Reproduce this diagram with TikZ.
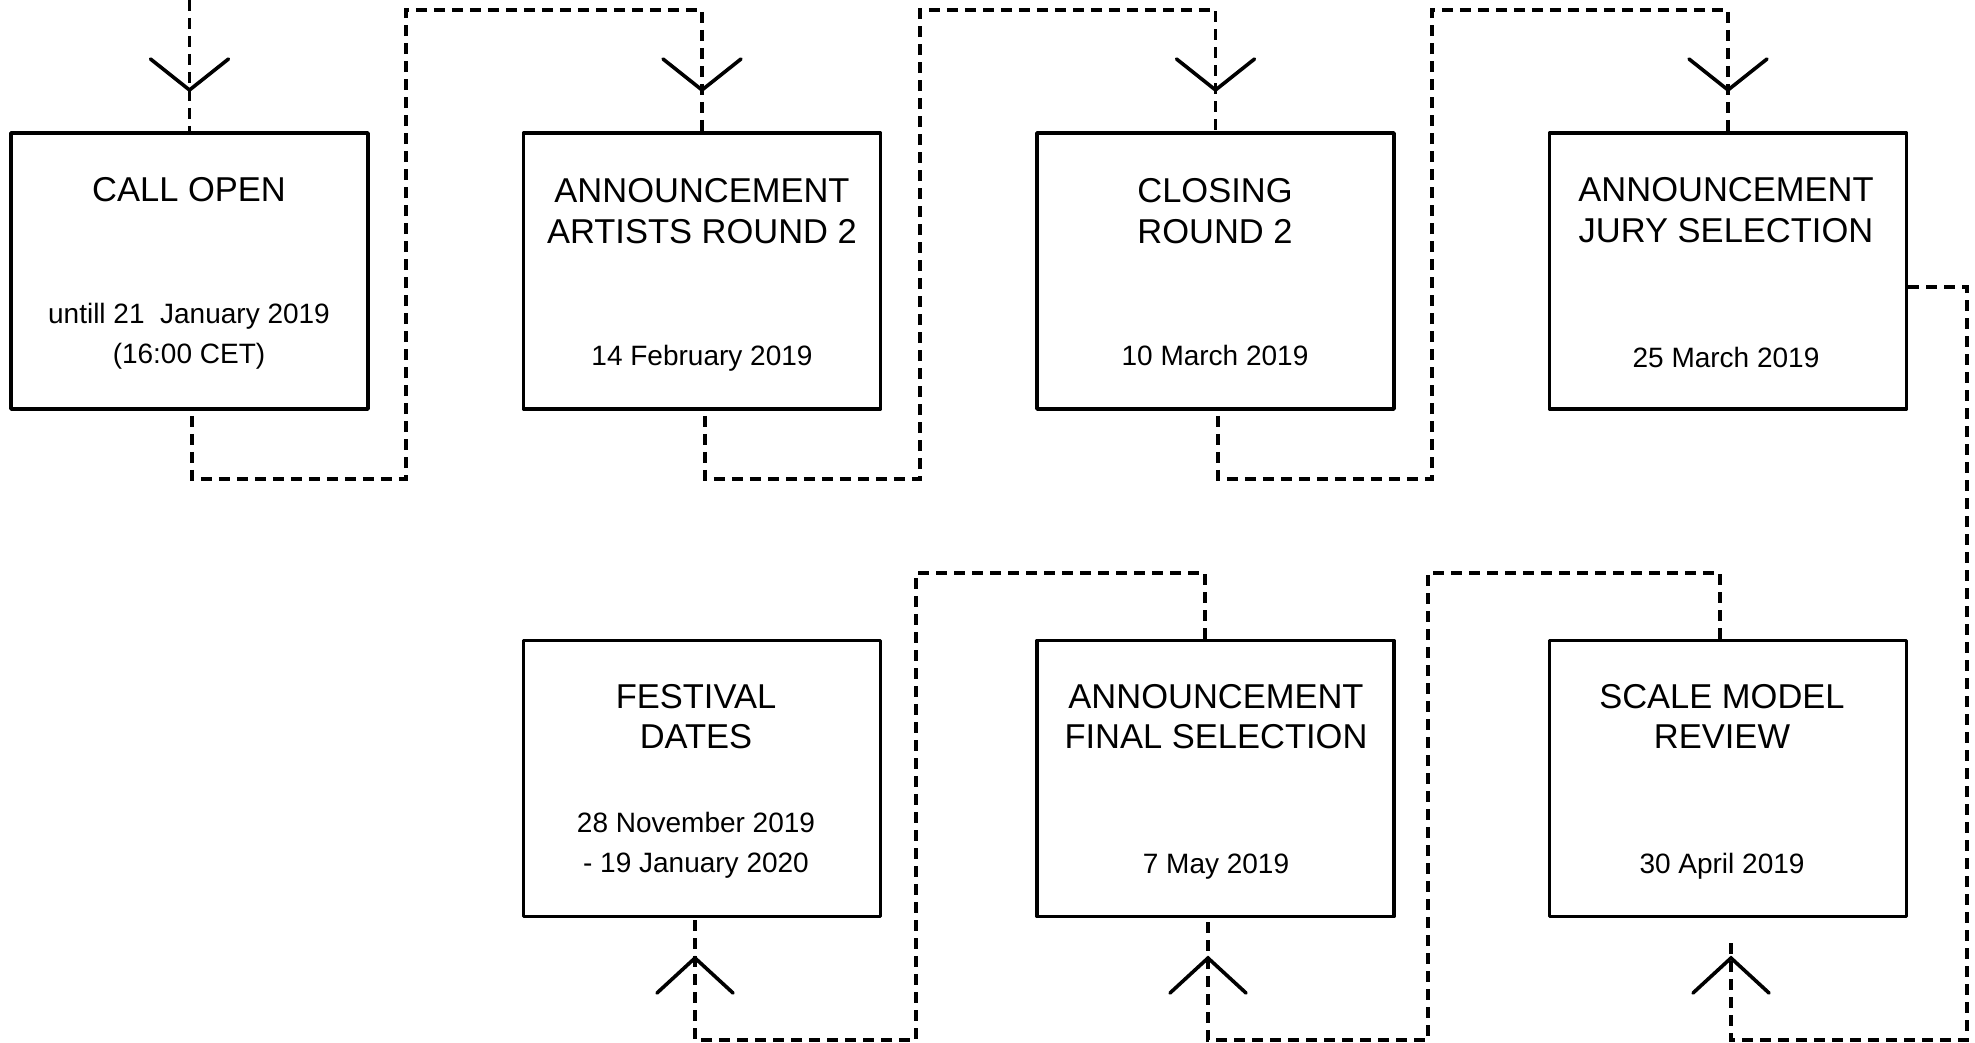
\documentclass[tikz,border=0pt]{standalone}
\usepackage{fontspec}
\setmainfont{Liberation Sans}
\begin{document}
\begin{tikzpicture}[x=1pt,y=-1pt,
  box/.style={draw, line width=3.6pt, line join=round, minimum width=357pt, minimum height=276pt, inner sep=0pt},
  ttl/.style={font=\fontsize{34.5}{40}\selectfont, anchor=base, inner sep=0pt},
  dte/.style={font=\fontsize{28}{40}\selectfont, anchor=base, inner sep=0pt},
  conn/.style={line width=3.6pt, dash pattern=on 11pt off 7pt},
  tipv/.style={line width=3.6pt, line cap=round, line join=miter}]
\useasboundingbox (0,0) rectangle (1975,1043);

% boxes
\node[box] (b1) at (189.5,271) {};
\node[box] (b2) at (702,271) {};
\node[box] (b3) at (1215.5,271) {};
\node[box] (b4) at (1728,271) {};
\node[box] (b5) at (702,778.5) {};
\node[box] (b6) at (1215.5,778.5) {};
\node[box] (b7) at (1728,778.5) {};

% texts top row
\node[ttl] (t1a) at (189,201) {CALL OPEN};
\node[dte] (t1b) at (189,323) {untill 21\ \ January 2019};
\node[dte] (t1c) at (189,363) {(16:00 CET)};

\node[ttl] (t2a) at (702,203) {ANNOUNCEMENT};
\node[ttl] (t2b) at (702,243) {ARTISTS ROUND 2};
\node[dte] (t2c) at (702,365) {14 February 2019};

\node[ttl] (t3a) at (1215,203) {CLOSING};
\node[ttl] (t3b) at (1215,243) {ROUND 2};
\node[dte] (t3c) at (1215,365) {10 March 2019};

\node[ttl] (t4a) at (1726,202) {ANNOUNCEMENT};
\node[ttl] (t4b) at (1726,242) {JURY SELECTION};
\node[dte] (t4c) at (1726,367) {25 March 2019};

% texts bottom row
\node[ttl] (t5a) at (696,708) {FESTIVAL};
\node[ttl] (t5b) at (696,748) {DATES};
\node[dte] (t5c) at (696,832) {28 November 2019};
\node[dte] (t5d) at (696,872) {- 19 January 2020};

\node[ttl] (t6a) at (1216,708) {ANNOUNCEMENT};
\node[ttl] (t6b) at (1216,748) {FINAL SELECTION};
\node[dte] (t6c) at (1216,873) {7 May 2019};

\node[ttl] (t7a) at (1722,708) {SCALE MODEL};
\node[ttl] (t7b) at (1722,748) {REVIEW};
\node[dte] (t7c) at (1722,873) {30 April 2019};

% connectors
\coordinate (start) at (189.5,0);
\draw[conn] (start) -- (b1.north);
\draw[conn] ([xshift=2.5pt,yshift=-5pt]b1.south) -- (192,479) -- (406,479) -- (406,10) -- (702,10) -- (b2.north);
\draw[conn] ([xshift=3pt,yshift=-5pt]b2.south) -- (705,479) -- (920,479) -- (920,10) -- (1215.5,10) -- (b3.north);
\draw[conn] ([xshift=2.5pt,yshift=-5pt]b3.south) -- (1218,479) -- (1432,479) -- (1432,10) -- (1728,10) -- (b4.north);
\coordinate (e4) at (1731,940);
\draw[conn] ([yshift=-16pt]b4.east) -- (1967,287) -- (1967,1040) -- (1731,1040) -- (e4);
\draw[conn] ([xshift=-8pt]b7.north) -- (1720,573) -- (1428,573) -- (1428,1040) -- (1208,1040) -- ([xshift=-7.5pt]b6.south);
\draw[conn] ([xshift=-10.5pt]b6.north) -- (1205,573) -- (916,573) -- (916,1040) -- (695,1040) -- ([xshift=-7pt]b5.south);

% open arrow heads
\draw[tipv] (150.5,59) -- (189.5,90) -- (228.5,59);
\draw[tipv] (663,59) -- (702,90) -- (741,59);
\draw[tipv] (1176.5,59) -- (1215.5,90) -- (1254.5,59);
\draw[tipv] (1689,59) -- (1728,90) -- (1767,59);
\draw[tipv] (657,993) -- (695,958) -- (733,993);
\draw[tipv] (1170,993) -- (1208,958) -- (1246,993);
\draw[tipv] (1693,993) -- (1731,958) -- (1769,993);
\end{tikzpicture}
\end{document}
